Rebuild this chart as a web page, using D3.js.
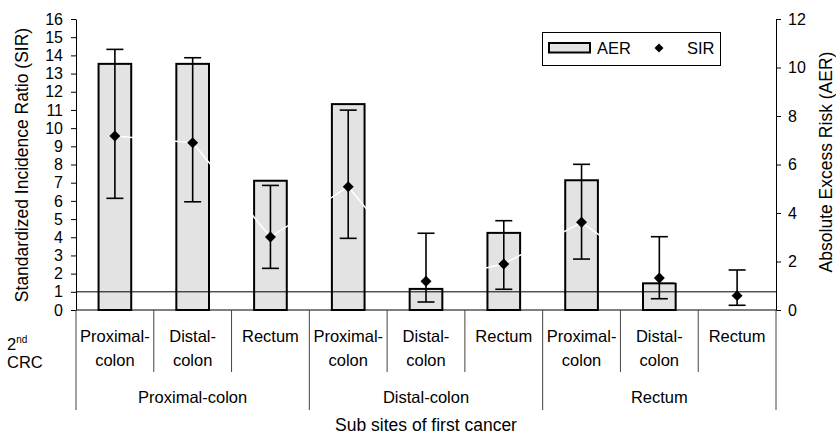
<!DOCTYPE html>
<html>
<head>
<meta charset="utf-8">
<script src="https://cdn.jsdelivr.net/npm/d3@7"></script>
<style>
  body { margin: 0; background: #fff; }
  svg { display: block; font-family: "Liberation Sans", Arial, sans-serif; }
</style>
</head>
<body>
<div id="chart"></div>
<script>
// sub sites of the first cancer (groups) and of the 2nd CRC (inside each group)
const firstSites = ["Proximal-colon", "Distal-colon", "Rectum"];
const secondSites = ["Proximal-colon", "Distal-colon", "Rectum"];

// AER bars (right axis), SIR points with 95% CI (left axis), in order of the 9 cells
const aer = [10.15, 10.15, 5.33, 8.49, 0.87, 3.18, 5.35, 1.1, 0];
const sir = [9.57, 9.2, 4.01, 6.78, 1.58, 2.53, 4.82, 1.76, 0.79];
const sirLow = [6.14, 5.95, 2.29, 3.94, 0.44, 1.14, 2.8, 0.62, 0.26];
const sirHigh = [14.33, 13.87, 6.85, 10.99, 4.22, 4.91, 8.01, 4.03, 2.2];

const sirTicks = d3.range(0, 17, 1);
const aerTicks = [0, 2, 4, 6, 8, 10, 12];

const width = 836, height = 439;
const mLeft = 76, mRight = 776, mTop = 19, mBottom = 310;

const cells = [];
firstSites.forEach((g, gi) => {
    secondSites.forEach((s, si) => {
        const i = gi * 3 + si;
        cells.push({key: i, group: g, site: s, aer: aer[i], sir: sir[i], lo: sirLow[i], hi: sirHigh[i]});
    });
});

const x = d3.scaleBand()
    .domain(cells.map(d => d.key))
    .range([mLeft, mRight]);

const ySir = d3.scaleLinear().domain([0, 16]).range([mBottom, mTop]);
const yAer = d3.scaleLinear().domain([0, 12]).range([mBottom, mTop]);

const svg = d3.select("#chart")
    .append("svg")
    .attr("width", width)
    .attr("height", height);

const barW = x.bandwidth() * 0.42;

// bars
svg.append("g")
    .selectAll("rect")
    .data(cells.filter(d => d.aer > 0))
    .join("rect")
        .attr("x", d => x(d.key) + (x.bandwidth() - barW) / 2)
        .attr("y", d => yAer(d.aer))
        .attr("width", barW)
        .attr("height", d => yAer(0) - yAer(d.aer))
        .attr("fill", "#e3e3e3")
        .attr("stroke", "#000")
        .attr("stroke-width", 2);

// white connecting line of SIR series
const line = d3.line()
    .x(d => x(d.key) + x.bandwidth() / 2)
    .y(d => ySir(d.sir));

svg.append("path")
    .datum(cells)
    .attr("d", line)
    .attr("fill", "none")
    .attr("stroke", "#fff")
    .attr("stroke-width", 1.5);

// reference line at SIR = 1
svg.append("line")
    .attr("x1", mLeft).attr("x2", mRight)
    .attr("y1", ySir(1)).attr("y2", ySir(1))
    .attr("stroke", "#000")
    .attr("stroke-width", 1);

// error bars
const err = svg.append("g")
    .attr("stroke", "#000")
    .attr("stroke-width", 1.6)
    .selectAll("g")
    .data(cells)
    .join("g")
        .attr("transform", d => `translate(${x(d.key) + x.bandwidth() / 2},0)`);

err.append("line")
    .attr("y1", d => ySir(d.lo))
    .attr("y2", d => ySir(d.hi));
err.append("line")
    .attr("x1", -8.5).attr("x2", 8.5)
    .attr("y1", d => ySir(d.hi)).attr("y2", d => ySir(d.hi));
err.append("line")
    .attr("x1", -8.5).attr("x2", 8.5)
    .attr("y1", d => ySir(d.lo)).attr("y2", d => ySir(d.lo));

// diamonds
const diamond = d3.symbol().type(d3.symbolSquare).size(60);
svg.append("g")
    .selectAll("path")
    .data(cells)
    .join("path")
        .attr("transform", d => `translate(${x(d.key) + x.bandwidth() / 2},${ySir(d.sir)}) rotate(45)`)
        .attr("d", diamond)
        .attr("fill", "#000");

// axes
const axL = svg.append("g")
    .attr("transform", `translate(${mLeft},0)`)
    .call(d3.axisLeft(ySir).tickValues(sirTicks).tickSize(5).tickSizeOuter(0).tickPadding(8));
const axR = svg.append("g")
    .attr("transform", `translate(${mRight},0)`)
    .call(d3.axisRight(yAer).tickValues(aerTicks).tickSize(5).tickSizeOuter(0).tickPadding(7));
[axL, axR].forEach(a => {
    a.attr("font-family", null).attr("font-size", 16);
    a.selectAll("text").attr("fill", "#000");
    a.selectAll("line,path").attr("stroke", "#000");
});

// x baseline and category table
svg.append("line")
    .attr("x1", mLeft).attr("x2", mRight)
    .attr("y1", mBottom).attr("y2", mBottom)
    .attr("stroke", "#000");

const bounds = d3.range(cells.length + 1);
svg.append("g")
    .selectAll("line")
    .data(bounds)
    .join("line")
        .attr("x1", i => i < cells.length ? x(i) : mRight)
        .attr("x2", i => i < cells.length ? x(i) : mRight)
        .attr("y1", mBottom)
        .attr("y2", i => i % 3 === 0 ? 410 : 372)
        .attr("stroke", "#444")
        .attr("stroke-width", 1);

const catText = svg.append("g")
    .attr("font-size", 16.5)
    .attr("text-anchor", "middle")
    .selectAll("text")
    .data(cells)
    .join("text")
        .attr("x", d => x(d.key) + x.bandwidth() / 2)
        .attr("y", 342);
catText.each(function(d) {
    const parts = d.site.split("-");
    const t = d3.select(this);
    if (parts.length > 1) {
        t.append("tspan").attr("x", x(d.key) + x.bandwidth() / 2).text(parts[0] + "-");
        t.append("tspan").attr("x", x(d.key) + x.bandwidth() / 2).attr("dy", 23.5).text(parts[1]);
    } else {
        t.text(d.site);
    }
});

svg.append("g")
    .attr("font-size", 16.5)
    .attr("text-anchor", "middle")
    .selectAll("text")
    .data(firstSites)
    .join("text")
        .attr("x", (d, i) => (x(i * 3) + (i < 2 ? x(i * 3 + 3) : mRight)) / 2)
        .attr("y", 403)
        .text(d => d);

// "2nd CRC" row label
const lab = svg.append("text").attr("x", 7).attr("y", 350).attr("font-size", 16.5);
lab.append("tspan").text("2");
lab.append("tspan").attr("font-size", 10).attr("dy", -7).text("nd");
svg.append("text").attr("x", 7).attr("y", 368).attr("font-size", 16.5).text("CRC");

// axis titles
svg.append("text")
    .attr("transform", `translate(${(mLeft + mRight) / 2},431)`)
    .attr("text-anchor", "middle")
    .attr("font-size", 17.5)
    .text("Sub sites of first cancer");

svg.append("text")
    .attr("transform", "translate(28,165) rotate(-90)")
    .attr("text-anchor", "middle")
    .attr("font-size", 17.5)
    .text("Standardized Incidence Ratio (SIR)");

svg.append("text")
    .attr("transform", "translate(832,162) rotate(-90)")
    .attr("text-anchor", "middle")
    .attr("font-size", 17.5)
    .text("Absolute Excess Risk (AER)");

// legend
const lg = svg.append("g");
lg.append("rect")
    .attr("x", 542.5).attr("y", 32.5)
    .attr("width", 178).attr("height", 33)
    .attr("fill", "#fff").attr("stroke", "#000");
lg.append("rect")
    .attr("x", 549).attr("y", 43)
    .attr("width", 41).attr("height", 9.5)
    .attr("fill", "#e3e3e3").attr("stroke", "#000").attr("stroke-width", 2);
lg.append("text").attr("x", 597).attr("y", 54).attr("font-size", 16.5).text("AER");
lg.append("path")
    .attr("transform", "translate(659,48) rotate(45)")
    .attr("d", d3.symbol().type(d3.symbolSquare).size(40))
    .attr("fill", "#000");
lg.append("text").attr("x", 687).attr("y", 54).attr("font-size", 16.5).text("SIR");
</script>
</body>
</html>
